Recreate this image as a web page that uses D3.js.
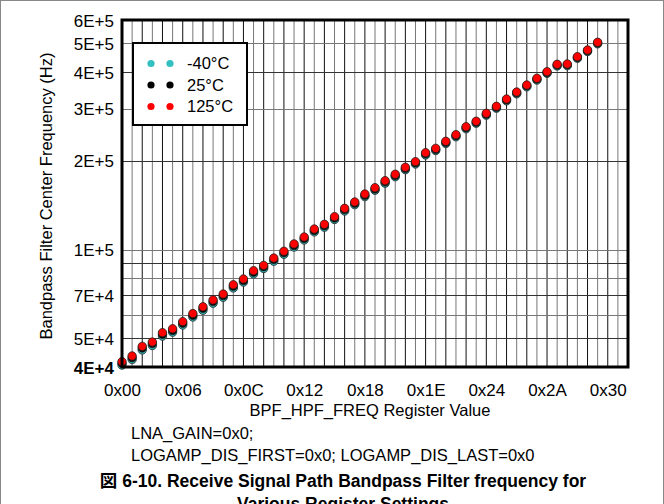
<!DOCTYPE html>
<html><head><meta charset="utf-8">
<script src="https://cdn.jsdelivr.net/npm/d3@7"></script>
<style>
html,body{margin:0;padding:0;background:#fff;}
text{font-family:"Liberation Sans",Arial,"Noto Sans CJK JP",sans-serif;}
</style></head>
<body><svg id="c" width="664" height="504"></svg>
<script>
const registerValues = [0,1,2,3,4,5,6,7,8,9,10,11,12,13,14,15,16,17,18,19,20,21,22,23,24,25,26,27,28,29,30,31,32,33,34,35,36,37,38,39,40,41,42,43,44,45,46,47];
const seriesNames = ["-40°C","25°C","125°C"];
const seriesColors = ["#33c0c0","#000000","#ff0000"];
const freqM40 = [40600,42400,45700,47300,50900,52500,55500,59100,62300,65800,68900,74100,77600,82700,86300,91300,96400,102000,107800,114800,119100,126500,135100,142000,151200,158900,167900,176600,186600,195000,209200,216600,228900,241200,256800,268100,285400,301400,319200,337200,356200,375500,395600,419200,420200,445100,469100,498300];
const freq25 = [41200,43000,46400,48000,51600,53200,56300,59900,63200,66700,69800,75100,78500,83800,87400,92500,97600,103300,109100,116100,120500,127900,136600,143500,152800,160500,169600,178300,188400,196800,211100,218500,230800,243200,258900,270200,287600,303700,321600,339700,358800,378200,398300,422000,423000,447900,472000,501300];
const freq125 = [41700,43600,47000,48600,52300,53900,57000,60700,64000,67500,70700,76000,79500,84800,88400,93600,98700,104500,110300,117400,121800,129300,138000,145000,154300,162100,171200,180000,190100,198600,213000,220400,232800,245200,260900,272200,289700,305900,323900,342000,361200,380700,400800,424600,425600,450600,474800,504200];
const xTickValues = [0,6,12,18,24,30,36,42,48];
const xTickLabels = ["0x00","0x06","0x0C","0x12","0x18","0x1E","0x24","0x2A","0x30"];
const yTickValues = [40000,50000,70000,100000,200000,300000,400000,500000,600000];
const yTickLabels = ["4E+4","5E+4","7E+4","1E+5","2E+5","3E+5","4E+5","5E+5","6E+5"];
const yGridValues = [50000,60000,70000,80000,90000,100000,200000,300000,400000,500000];
const xTitle = "BPF_HPF_FREQ Register Value";
const yTitle = "Bandpass Filter Center Frequency (Hz)";
const noteLines = ["LNA_GAIN=0x0;","LOGAMP_DIS_FIRST=0x0; LOGAMP_DIS_LAST=0x0"];
const captionLines = ["図 6-10. Receive Signal Path Bandpass Filter frequency for","Various Register Settings"];

const svg = d3.select("#c");
const L=122, R=628, T=20, B=367;
const x = d3.scaleLinear().domain([0,50]).range([L,R]);
const y = d3.scaleLog().domain([40000,600000]).range([B,T]);

// outer frame
svg.append("rect").attr("x",0.5).attr("y",0.5).attr("width",663).attr("height",520)
  .attr("fill","none").attr("stroke","#888").attr("stroke-width",1);

// vertical grid
svg.append("g").selectAll("line").data(d3.range(1,50)).join("line")
  .attr("x1",d=>x(d)).attr("x2",d=>x(d)).attr("y1",T).attr("y2",B)
  .attr("stroke",d=>d%2===0?"#111":"#777").attr("stroke-width",1);
// horizontal grid
svg.append("g").selectAll("line").data(yGridValues).join("line")
  .attr("x1",L).attr("x2",R).attr("y1",d=>Math.round(y(d))+0.5).attr("y2",d=>Math.round(y(d))+0.5)
  .attr("stroke",(d,i)=>i%2===0?"#333":"#777").attr("stroke-width",1.2);

// points
const series = [freqM40,freq25,freq125];
series.forEach((vals,si)=>{
  svg.append("g").selectAll("circle").data(registerValues).join("circle")
    .attr("cx",(d)=>x(d)).attr("cy",(d,i)=>y(vals[i])).attr("r",4.2)
    .attr("fill",seriesColors[si]).attr("stroke","#222").attr("stroke-width",0.8);
});

// plot border
svg.append("rect").attr("x",L).attr("y",T).attr("width",R-L).attr("height",B-T)
  .attr("fill","none").attr("stroke","#000").attr("stroke-width",3);

// axes
const xAxis = d3.axisBottom(x).tickValues(xTickValues).tickFormat((d,i)=>xTickLabels[i]).tickSize(0).tickPadding(0);
const gx = svg.append("g").attr("transform",`translate(0,${B})`).call(xAxis);
gx.select(".domain").remove();
gx.selectAll("text").attr("dy",null).attr("y",29).attr("font-size",17).attr("fill","#000");

const yAxis = d3.axisLeft(y).tickValues(yTickValues).tickFormat((d,i)=>yTickLabels[i]).tickSize(0).tickPadding(0);
const gy = svg.append("g").attr("transform",`translate(${L},0)`).call(yAxis);
gy.select(".domain").remove();
gy.selectAll("text").attr("x",-8).attr("dy","0.36em").attr("font-size",17).attr("fill","#000")
  .attr("font-weight",(d)=>d===40000?"bold":"normal");

// titles
svg.append("text").attr("x",370).attr("y",416).attr("text-anchor","middle").attr("font-size",16.5).text(xTitle);
svg.append("text").attr("transform","translate(52,196) rotate(-90)").attr("text-anchor","middle").attr("font-size",16.5).text(yTitle);
noteLines.forEach((t,i)=>svg.append("text").attr("x",131).attr("y",439+i*22).attr("font-size",16.5).text(t));
captionLines.forEach((t,i)=>svg.append("text").attr("x",343).attr("y",487+i*23).attr("text-anchor","middle")
  .attr("font-size",17.5).attr("font-weight","bold").text(t));

// legend
const lg = svg.append("g");
lg.append("rect").attr("x",133).attr("y",43).attr("width",114).attr("height",82)
  .attr("fill","#fff").attr("stroke","#000").attr("stroke-width",2);
seriesNames.forEach((n,i)=>{
  const yy = 63.5+i*21.5;
  [151,170].forEach(cx=>lg.append("circle").attr("cx",cx).attr("cy",yy).attr("r",3.6).attr("fill",seriesColors[i]));
  lg.append("text").attr("x",187).attr("y",yy).attr("dy","0.36em").attr("font-size",16.5).text(n);
});
</script></body></html>
